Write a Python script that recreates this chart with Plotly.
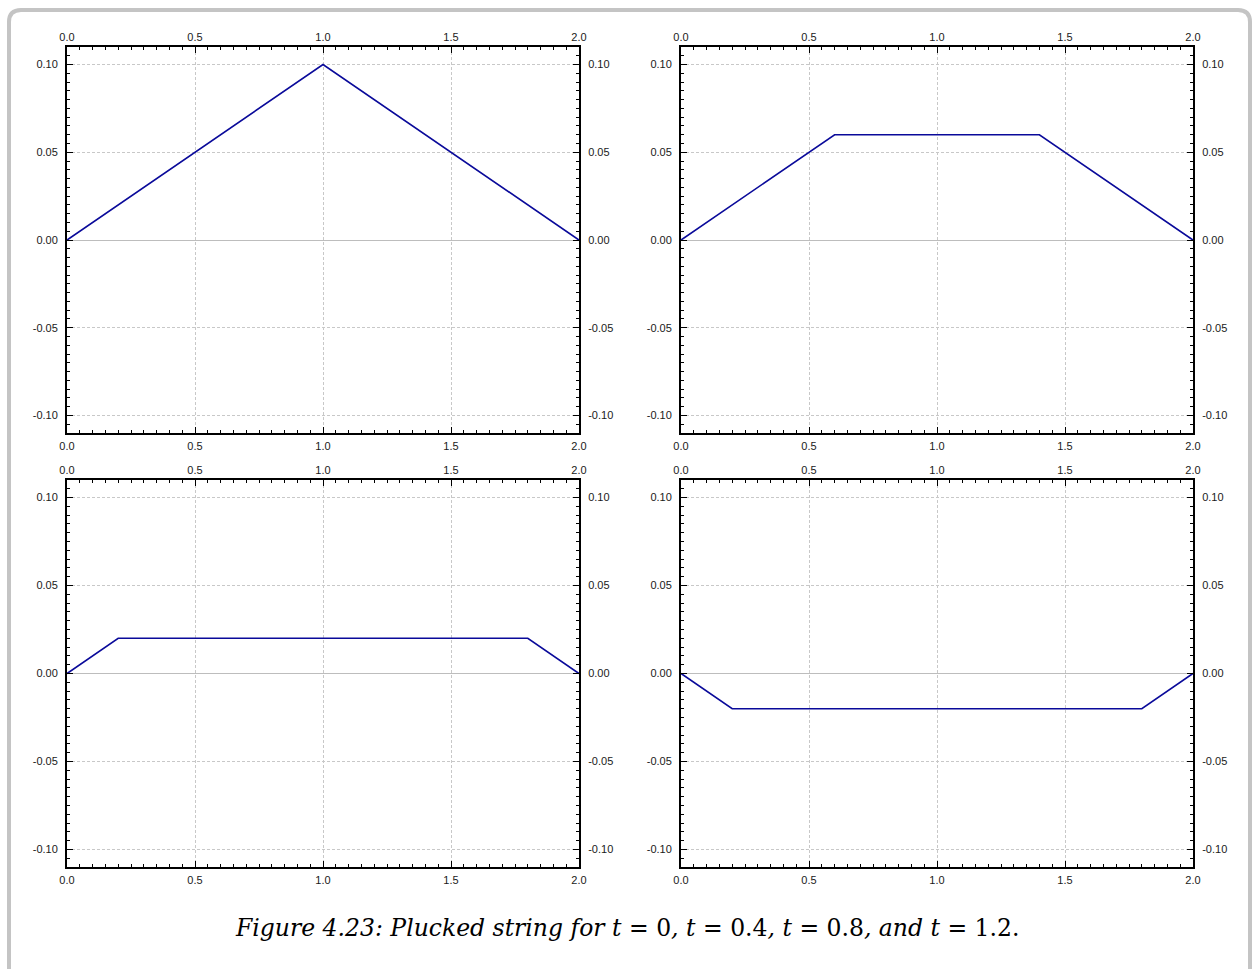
import plotly.graph_objects as go

W, H = 1255, 969

# ---- data ----
titles_t = ["0", "0.4", "0.8", "1.2"]
x_t0 = [0.0, 1.0, 2.0]
y_t0 = [0.0, 0.10, 0.0]
x_t04 = [0.0, 0.6, 1.4, 2.0]
y_t04 = [0.0, 0.06, 0.06, 0.0]
x_t08 = [0.0, 0.2, 1.8, 2.0]
y_t08 = [0.0, 0.02, 0.02, 0.0]
x_t12 = [0.0, 0.2, 1.8, 2.0]
y_t12 = [0.0, -0.02, -0.02, 0.0]
x_ticks = [0.0, 0.5, 1.0, 1.5, 2.0]
x_ticktext = ["0.0", "0.5", "1.0", "1.5", "2.0"]
y_ticks = [-0.10, -0.05, 0.0, 0.05, 0.10]
y_ticktext = ["-0.10", "-0.05", "0.00", "0.05", "0.10"]
x_range = [0.0, 2.0]
y_range = [-0.11, 0.11]

series = [(x_t0, y_t0), (x_t04, y_t04), (x_t08, y_t08), (x_t12, y_t12)]

# pixel boxes of panels (left, right, top, bottom)
boxes = [(67, 579, 47, 433), (681, 1193, 47, 433),
         (67, 579, 480, 867), (681, 1193, 480, 867)]

LINE = "#0a0a9a"
GRID = "#c8c8c8"
TICKFONT = dict(family="Liberation Sans, Arial, sans-serif", size=11, color="#1a1a1a")

fig = go.Figure()
layout = {}

def ax_common():
    return dict(showline=True, linecolor="black", linewidth=2,
                ticks="inside", ticklen=6, tickwidth=1, tickcolor="black",
                tickfont=TICKFONT, fixedrange=True, automargin=False)

for i, ((xs, ys), (l, r, t, b)) in enumerate(zip(series, boxes)):
    n = i + 1
    m = i + 5
    xd = [l / W, r / W]
    yd = [1 - b / H, 1 - t / H]
    xa = ax_common()
    xa.update(domain=xd, anchor=f"y{n}", range=x_range, tickvals=x_ticks,
              ticktext=x_ticktext, showgrid=True, gridcolor=GRID, gridwidth=1,
              griddash="3px,2px", zeroline=False, side="bottom",
              minor=dict(dtick=0.05, ticks="inside", ticklen=3, tickcolor="black",
                         showgrid=False), ticklabelstandoff=2)
    ya = ax_common()
    ya.update(domain=yd, anchor=f"x{n}", range=y_range, tickvals=y_ticks,
              ticktext=y_ticktext, showgrid=True, gridcolor=GRID, gridwidth=1,
              griddash="3px,2px", zeroline=True, zerolinecolor="#bdbdbd",
              zerolinewidth=1, side="left",
              minor=dict(dtick=0.005, tick0=0, ticks="inside", ticklen=3,
                         tickcolor="black", showgrid=False), ticklabelstandoff=5)
    xo = ax_common()
    xo.update(overlaying=f"x{n}", anchor=f"y{n}", side="top", range=x_range,
              tickvals=x_ticks, ticktext=x_ticktext, showgrid=False, zeroline=False,
              minor=dict(dtick=0.05, ticks="inside", ticklen=3, tickcolor="black",
                         showgrid=False), ticklabelstandoff=0)
    yo = ax_common()
    yo.update(overlaying=f"y{n}", anchor=f"x{n}", side="right", range=y_range,
              tickvals=y_ticks, ticktext=y_ticktext, showgrid=False, zeroline=False,
              minor=dict(dtick=0.005, tick0=0, ticks="inside", ticklen=3,
                         tickcolor="black", showgrid=False), ticklabelstandoff=5)
    layout[f"xaxis{n}"] = xa
    layout[f"yaxis{n}"] = ya
    layout[f"xaxis{m}"] = xo
    layout[f"yaxis{m}"] = yo
    fig.add_trace(go.Scatter(x=xs, y=ys, mode="lines", xaxis=f"x{n}", yaxis=f"y{n}",
                             line=dict(color=LINE, width=1.6), showlegend=False,
                             hoverinfo="skip", cliponaxis=True))
    fig.add_trace(go.Scatter(x=xs, y=ys, mode="lines", xaxis=f"x{m}", yaxis=f"y{m}",
                             line=dict(color=LINE, width=0), opacity=0,
                             showlegend=False, hoverinfo="skip"))

def rounded_path(x0, y0, x1, y1, r):
    px = lambda v: v / W
    py = lambda v: 1 - v / H
    pts = [
        f"M {px(x0 + r)},{py(y0)}",
        f"L {px(x1 - r)},{py(y0)}",
        f"Q {px(x1)},{py(y0)} {px(x1)},{py(y0 + r)}",
        f"L {px(x1)},{py(y1 - r)}",
        f"Q {px(x1)},{py(y1)} {px(x1 - r)},{py(y1)}",
        f"L {px(x0 + r)},{py(y1)}",
        f"Q {px(x0)},{py(y1)} {px(x0)},{py(y1 - r)}",
        f"L {px(x0)},{py(y0 + r)}",
        f"Q {px(x0)},{py(y0)} {px(x0 + r)},{py(y0)}",
        "Z",
    ]
    return " ".join(pts)

shapes = [dict(type="path", xref="paper", yref="paper",
               path=rounded_path(9, 10, 1250, 985, 12),
               line=dict(color="#c4c4c4", width=4), fillcolor="rgba(0,0,0,0)",
               layer="below")]

caption = ("<i>Figure 4.23: Plucked string for t</i> = 0<i>, t</i> = 0.4<i>, t</i> = 0.8"
           "<i>, and t</i> = 1.2.")

fig.update_layout(
    **layout,
    template="none",
    width=W, height=H, autosize=False,
    margin=dict(l=0, r=0, t=0, b=0, pad=0),
    paper_bgcolor="white", plot_bgcolor="white",
    shapes=shapes,
    annotations=[dict(text=caption, xref="paper", yref="paper",
                      x=627 / W, y=1 - 928 / H, xanchor="center", yanchor="middle",
                      showarrow=False,
                      font=dict(family="DejaVu Serif, serif",
                                size=23.5, color="black"))],
)

post = ("document.documentElement.style.overflow='hidden';"
        "document.body.style.margin='0';"
        "document.body.style.padding='0';"
        "document.body.style.overflow='hidden';")

fig.write_html("out.html", post_script=post,
               config={"displayModeBar": False, "responsive": False})
